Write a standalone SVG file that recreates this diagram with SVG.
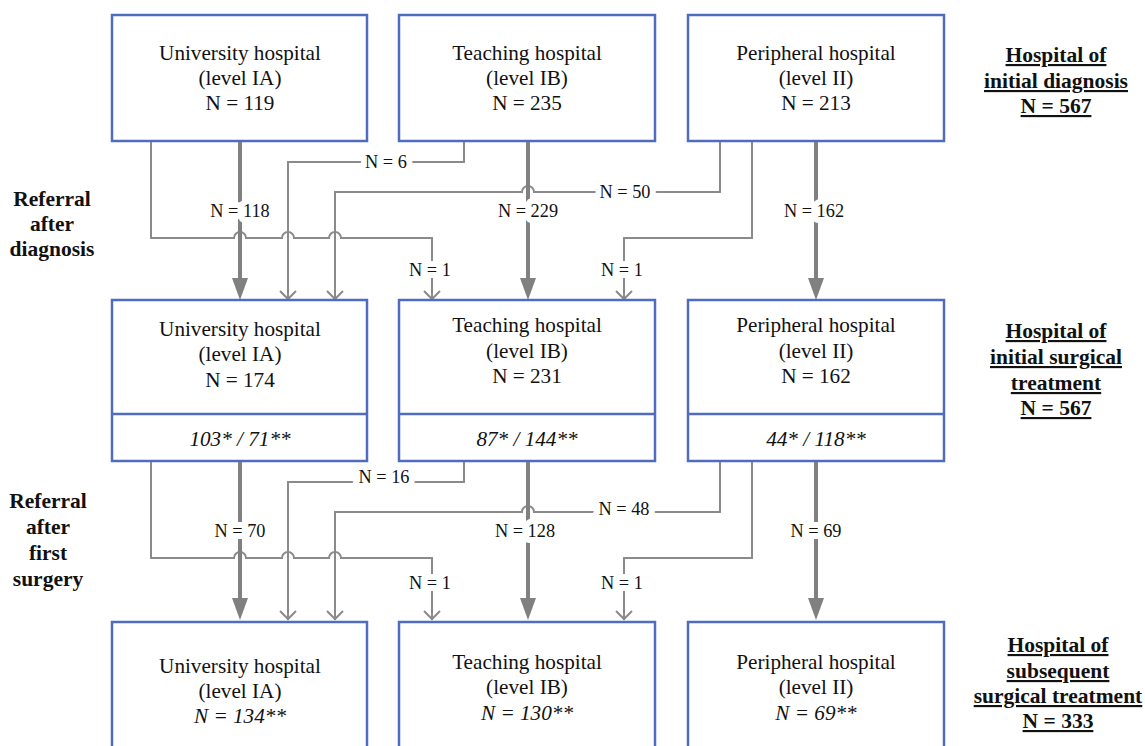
<svg xmlns="http://www.w3.org/2000/svg" width="1145" height="746" viewBox="0 0 1145 746">
<style>
.box{fill:#fff;stroke:#4f6cbf;stroke-width:2.5}
.t{font-family:"Liberation Serif","Times New Roman",serif;font-size:21.2px;fill:#111;text-anchor:middle}
.it{font-style:italic}
.hd{font-family:"Liberation Serif","Times New Roman",serif;font-size:21.5px;font-weight:bold;fill:#111;text-anchor:middle}
.u{text-decoration:underline}
.thick{fill:none;stroke:#808080;stroke-width:4}
.thin{fill:none;stroke:#8a8a8a;stroke-width:2}
.lbl{font-family:"Liberation Serif","Times New Roman",serif;font-size:18.3px;fill:#111;text-anchor:middle;stroke:#fff;stroke-width:12;stroke-linejoin:round;paint-order:stroke}
</style>

<g id="connectors">
<!-- top section -->
<path class="thin" d="M151,141 V238 H234 a6 6 0 0 1 12 0 H282 a6 6 0 0 1 12 0 H329 a6 6 0 0 1 12 0 H432 V300"/>
<path class="thin" d="M464,141 V162 H288 V300"/>
<path class="thin" d="M720,141 V192 H534 a6 6 0 0 0 -12 0 H335 V300"/>
<path class="thin" d="M752,141 V238 H624 V300"/>
<line class="thick" x1="240" y1="141" x2="240" y2="280"/>
<line class="thick" x1="528" y1="141" x2="528" y2="280"/>
<line class="thick" x1="816" y1="141" x2="816" y2="280"/>
<path d="M232,278 L248,278 L240,300 Z" fill="#808080"/>
<path d="M520,278 L536,278 L528,300 Z" fill="#808080"/>
<path d="M808,278 L824,278 L816,300 Z" fill="#808080"/>
<path class="thin" d="M280,291 L288,299 L296,291 M327,291 L335,299 L343,291 M424,291 L432,299 L440,291 M616,291 L624,299 L632,291"/>
<text class="lbl" x="240" y="217">N = 118</text>
<text class="lbl" x="386" y="168">N = 6</text>
<text class="lbl" x="430" y="276">N = 1</text>
<text class="lbl" x="528" y="217">N = 229</text>
<text class="lbl" x="625" y="198">N = 50</text>
<text class="lbl" x="622" y="276">N = 1</text>
<text class="lbl" x="814" y="217">N = 162</text>

<!-- lower section -->
<path class="thin" d="M151,461 V558 H234 a6 6 0 0 1 12 0 H282 a6 6 0 0 1 12 0 H329 a6 6 0 0 1 12 0 H432 V620"/>
<path class="thin" d="M464,461 V482 H288 V620"/>
<path class="thin" d="M720,461 V512 H534 a6 6 0 0 0 -12 0 H335 V620"/>
<path class="thin" d="M752,461 V558 H624 V620"/>
<line class="thick" x1="240" y1="461" x2="240" y2="600"/>
<line class="thick" x1="528" y1="461" x2="528" y2="600"/>
<line class="thick" x1="816" y1="461" x2="816" y2="600"/>
<path d="M232,598 L248,598 L240,620 Z" fill="#808080"/>
<path d="M520,598 L536,598 L528,620 Z" fill="#808080"/>
<path d="M808,598 L824,598 L816,620 Z" fill="#808080"/>
<path class="thin" d="M280,611 L288,619 L296,611 M327,611 L335,619 L343,611 M424,611 L432,619 L440,611 M616,611 L624,619 L632,611"/>
<text class="lbl" x="240" y="537">N = 70</text>
<text class="lbl" x="384" y="483">N = 16</text>
<text class="lbl" x="430" y="589">N = 1</text>
<text class="lbl" x="525" y="537">N = 128</text>
<text class="lbl" x="624" y="515">N = 48</text>
<text class="lbl" x="622" y="589">N = 1</text>
<text class="lbl" x="816" y="537">N = 69</text>
</g>

<!-- top row -->
<g id="diag-univ">
<rect class="box" x="112" y="15" width="255" height="126"/>
<text class="t" x="240" y="60">University hospital</text>
<text class="t" x="240" y="85">(level IA)</text>
<text class="t" x="240" y="110">N = 119</text>
</g>
<g id="diag-teach">
<rect class="box" x="399" y="15" width="256" height="126"/>
<text class="t" x="527" y="60">Teaching hospital</text>
<text class="t" x="527" y="85">(level IB)</text>
<text class="t" x="527" y="110">N = 235</text>
</g>
<g id="diag-periph">
<rect class="box" x="688" y="15" width="256" height="126"/>
<text class="t" x="816" y="60">Peripheral hospital</text>
<text class="t" x="816" y="85">(level II)</text>
<text class="t" x="816" y="110">N = 213</text>
</g>

<!-- middle row -->
<g id="surg-univ">
<rect class="box" x="112" y="300" width="255" height="161"/>
<line class="box" x1="112" y1="414" x2="367" y2="414"/>
<text class="t" x="240" y="336">University hospital</text>
<text class="t" x="240" y="361">(level IA)</text>
<text class="t" x="240" y="387">N = 174</text>
<text class="t it" x="240" y="446">103* / 71**</text>
</g>
<g id="surg-teach">
<rect class="box" x="399" y="300" width="256" height="161"/>
<line class="box" x1="399" y1="414" x2="655" y2="414"/>
<text class="t" x="527" y="332">Teaching hospital</text>
<text class="t" x="527" y="358">(level IB)</text>
<text class="t" x="527" y="383">N = 231</text>
<text class="t it" x="527" y="446">87* / 144**</text>
</g>
<g id="surg-periph">
<rect class="box" x="688" y="300" width="256" height="161"/>
<line class="box" x1="688" y1="414" x2="944" y2="414"/>
<text class="t" x="816" y="332">Peripheral hospital</text>
<text class="t" x="816" y="358">(level II)</text>
<text class="t" x="816" y="383">N = 162</text>
<text class="t it" x="816" y="446">44* / 118**</text>
</g>

<!-- bottom row -->
<g id="sub-univ">
<rect class="box" x="112" y="622" width="255" height="140"/>
<text class="t" x="240" y="673">University hospital</text>
<text class="t" x="240" y="698">(level IA)</text>
<text class="t it" x="240" y="723">N = 134**</text>
</g>
<g id="sub-teach">
<rect class="box" x="399" y="622" width="256" height="140"/>
<text class="t" x="527" y="669">Teaching hospital</text>
<text class="t" x="527" y="694">(level IB)</text>
<text class="t it" x="527" y="720">N = 130**</text>
</g>
<g id="sub-periph">
<rect class="box" x="688" y="622" width="256" height="140"/>
<text class="t" x="816" y="669">Peripheral hospital</text>
<text class="t" x="816" y="694">(level II)</text>
<text class="t it" x="816" y="720">N = 69**</text>
</g>

<!-- side labels -->
<g id="label-diagnosis">
<text class="hd u" x="1056" y="62">Hospital of</text>
<text class="hd u" x="1056" y="88">initial diagnosis</text>
<text class="hd u" x="1056" y="113">N = 567</text>
</g>
<g id="label-surgery">
<text class="hd u" x="1056" y="338">Hospital of</text>
<text class="hd u" x="1056" y="364">initial surgical</text>
<text class="hd u" x="1056" y="390">treatment</text>
<text class="hd u" x="1056" y="415">N = 567</text>
</g>
<g id="label-subsequent">
<text class="hd u" x="1058" y="652">Hospital of</text>
<text class="hd u" x="1058" y="678">subsequent</text>
<text class="hd u" x="1058" y="703">surgical treatment</text>
<text class="hd u" x="1058" y="728">N = 333</text>
</g>
<g id="label-referral-1">
<text class="hd" x="52" y="206">Referral</text>
<text class="hd" x="52" y="231">after</text>
<text class="hd" x="52" y="256">diagnosis</text>
</g>
<g id="label-referral-2">
<text class="hd" x="48" y="508">Referral</text>
<text class="hd" x="48" y="534">after</text>
<text class="hd" x="48" y="560">first</text>
<text class="hd" x="48" y="586">surgery</text>
</g>
</svg>
